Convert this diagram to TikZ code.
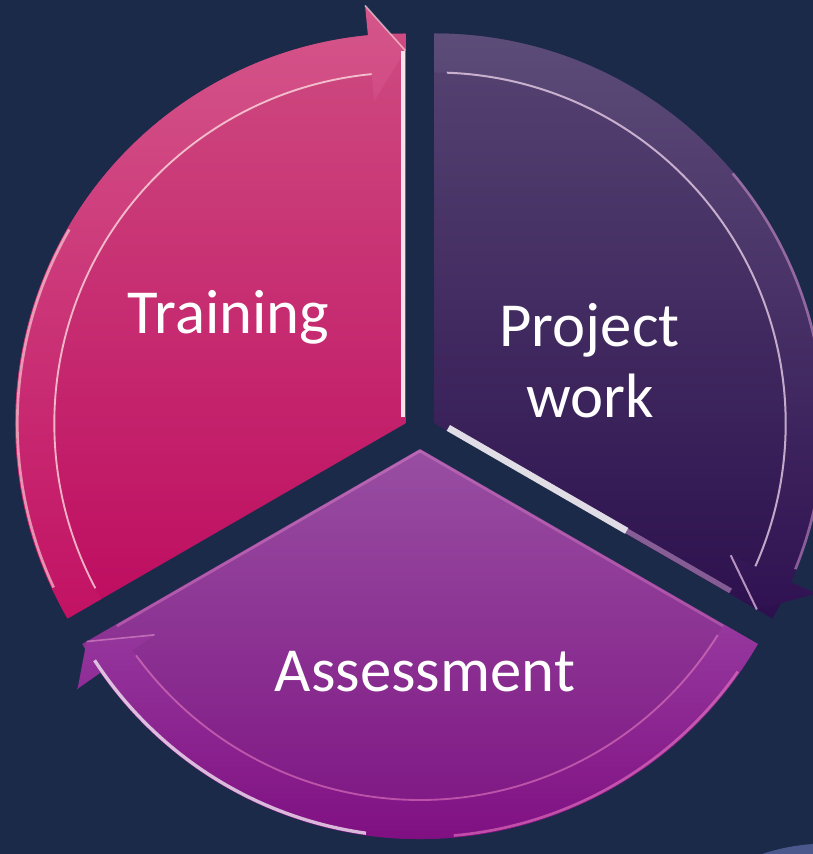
\documentclass[tikz,border=0pt]{standalone}
\usepackage{fontspec}
\setmainfont{Carlito}
\usetikzlibrary{calc}
\definecolor{bg}{RGB}{28,42,74}
\definecolor{trTop}{RGB}{206,74,128}
\definecolor{trMid}{RGB}{200,26,106}
\definecolor{trBot}{RGB}{190,12,96}
\definecolor{trbTop}{RGB}{212,86,138}
\definecolor{trbBot}{RGB}{194,18,100}
\definecolor{prTop}{RGB}{86,68,114}
\definecolor{prMid}{RGB}{56,28,90}
\definecolor{prBot}{RGB}{44,16,78}
\definecolor{prbTop}{RGB}{92,76,120}
\definecolor{prbBot}{RGB}{48,18,82}
\definecolor{asTop}{RGB}{152,78,162}
\definecolor{asMid}{RGB}{140,34,146}
\definecolor{asBot}{RGB}{122,12,126}
\definecolor{asbTop}{RGB}{150,56,158}
\definecolor{asbBot}{RGB}{128,16,130}
\definecolor{refl}{RGB}{74,88,140}
\tikzset{
  lbl/.style={text=white, font=\fontsize{47}{56}\selectfont, inner sep=0pt, anchor=base},
  rimline/.style={line width=1.4, draw opacity=0.75},
}
\begin{document}
\begin{tikzpicture}[x=0.75pt,y=0.75pt]
\useasboundingbox (0,0) rectangle (813,854);
\fill[bg] (0,0) rectangle (813,854);

% ---------------- Training ----------------
\begin{scope}[shift={(405.3,430.5)}]
  \shade[top color=trTop, middle color=trMid, bottom color=trBot]
    (0,0) -- (210:390) arc[start angle=210, end angle=90, radius=390] -- cycle;
  \shade[top color=trbTop, bottom color=trbBot]
    (210:390) arc[start angle=210, end angle=95.5, radius=390]
    -- (95.5:420) -- (90:373) -- (95.5:324) -- (95.5:351)
    arc[start angle=95.5, end angle=210, radius=351] -- cycle;
  \draw[white!60!pink, rimline] (95.5:351) arc[start angle=95.5, end angle=208, radius=351];
  \draw[white!50!pink, line width=2, draw opacity=0.6] (205:388) arc[start angle=205, end angle=150, radius=388];
  \draw[white!85!pink, line width=3, draw opacity=0.9] ($(90:6)+(180:2.5)$) -- ($(90:372)+(180:2.5)$);
  \draw[white!60!pink, line width=1.2, draw opacity=0.6] (95.5:420) -- (90:373);
\end{scope}

% ---------------- Project work ----------------
\begin{scope}[shift={(434.7,430.5)}]
  \shade[top color=prTop, middle color=prMid, bottom color=prBot]
    (0,0) -- (90:390) arc[start angle=90, end angle=-30, radius=390] -- cycle;
  \shade[top color=prbTop, bottom color=prbBot]
    (90:390) arc[start angle=90, end angle=-24, radius=390]
    -- (-24:418) -- (-30:372) -- (-24:324) -- (-24:351)
    arc[start angle=-24, end angle=90, radius=351] -- cycle;
  \draw[white!80!violet, line width=1.5, draw opacity=0.8] (88:351) arc[start angle=88, end angle=-24, radius=351];
  \draw[white!55!violet, line width=2, draw opacity=0.6] (40:389) arc[start angle=40, end angle=-22, radius=389];
  \draw[white, line width=5, draw opacity=0.85] ($(-30:14)+(60:3)$) -- ($(-30:220)+(60:3)$);
  \draw[white!60!violet, line width=4, draw opacity=0.55] ($(-30:220)+(60:3)$) -- ($(-30:340)+(60:3)$);
  \draw[white!70!violet, line width=1.5, draw opacity=0.8] (-24:324) -- (-30:372);
\end{scope}

% ---------------- Assessment ----------------
\begin{scope}[shift={(420,405)}]
  \shade[top color=asTop, middle color=asMid, bottom color=asBot]
    (0,0) -- (330:390) arc[start angle=330, end angle=210, radius=390] -- cycle;
  \shade[top color=asbTop, bottom color=asbBot]
    (330:390) arc[start angle=330, end angle=215, radius=390]
    -- (215:418) -- (210:385) -- (215:324) -- (215:351)
    arc[start angle=215, end angle=330, radius=351] -- cycle;
  \draw[white!55!magenta, rimline, draw opacity=0.5] (216:351) arc[start angle=216, end angle=328, radius=351];
  \draw[white, line width=2.5, draw opacity=0.7] (262:388) arc[start angle=262, end angle=213, radius=388];
  \draw[white!50!magenta, line width=2, draw opacity=0.55] (275:388) arc[start angle=275, end angle=325, radius=388];
  \draw[white!60!magenta, line width=2, draw opacity=0.35] ($(0,0)+(0,-2)$) -- ($(210:350)+(0,-2)$);
  \draw[white!60!magenta, line width=2, draw opacity=0.3] ($(0,0)+(0,-2)$) -- ($(330:350)+(0,-2)$);
  \draw[white!70!magenta, line width=1.2, draw opacity=0.45] (215:324) -- (210:385);
\end{scope}

% reflection fragment bottom right
\fill[refl] (813,0) -- (762,0) .. controls (780,6) and (798,9) .. (813,10) -- cycle;

% ---------------- Labels ----------------
\node[lbl] (training) at (228.5,520) {Training};
\node[lbl] (project) at (589.5,507) {Project};
\node[lbl] (work) at (590,436) {work};
\node[lbl] (assessment) at (425,162) {Assessment};
\end{tikzpicture}
\end{document}
